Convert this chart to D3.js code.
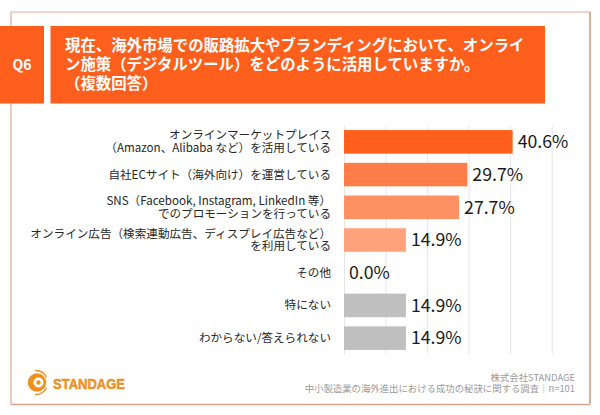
<!DOCTYPE html>
<html lang="ja">
<head>
<meta charset="UTF-8">
<title>Q6</title>
<script src="https://cdn.jsdelivr.net/npm/d3@7"></script>
<style>
html, body { margin: 0; padding: 0; background: #fff; }
svg { display: block; font-family: "Noto Sans CJK JP", sans-serif; }
</style>
</head>
<body>
<div id="chart"></div>
<script>
// chart data
const categories = ["market", "ec", "sns", "ads", "other", "none", "unknown"];
const categoryLines = [
    ["オンラインマーケットプレイス", "（Amazon、Alibaba など）を活用している"],
    ["自社ECサイト（海外向け）を運営している"],
    ["SNS（Facebook, Instagram, LinkedIn 等）", "でのプロモーションを行っている"],
    ["オンライン広告（検索連動広告、ディスプレイ広告など）", "を利用している"],
    ["その他"],
    ["特にない"],
    ["わからない/答えられない"]
];
const values = [40.6, 29.7, 27.7, 14.9, 0.0, 14.9, 14.9];
const barColors = ["#ff5f1c", "#ff7d49", "#ff9163", "#ffa27c", "#ffa27c", "#bfbfbf", "#bfbfbf"];
const gridTicks = [0, 10, 20, 30, 40, 50];

const questionNo = "Q6";
const questionLines = [
    "現在、海外市場での販路拡大やブランディングにおいて、オンライ",
    "ン施策（デジタルツール）をどのように活用していますか。",
    "（複数回答）"
];
const sourceLines = ["株式会社STANDAGE", "中小製造業の海外進出における成功の秘訣に関する調査｜n=101"];
const logoText = "STANDAGE";

const W = 600, H = 415;
const svg = d3.select("#chart").append("svg").attr("width", W).attr("height", H);

// frame
svg.append("path").attr("d", "M11 12 V404.5").attr("stroke", "#dfa78f").attr("stroke-width", 1.2).attr("fill", "none");
svg.append("path").attr("d", "M11 12 H590").attr("stroke", "#e2ad96").attr("stroke-width", 1.2).attr("fill", "none");
svg.append("path").attr("d", "M590 12 V404").attr("stroke", "#cf7a55").attr("stroke-width", 1.2).attr("fill", "none");
svg.append("path").attr("d", "M11 404.5 H590").attr("stroke", "#d9a48d").attr("stroke-width", 1.4).attr("fill", "none");

// header boxes
svg.append("rect").attr("x", 0).attr("y", 26).attr("width", 44).attr("height", 77.5).attr("fill", "#ff5f1c");
svg.append("rect").attr("x", 50.5).attr("y", 26).attr("width", 494.5).attr("height", 77.5).attr("fill", "#ff5f1c");
svg.append("text").attr("x", 22).attr("y", 70).attr("text-anchor", "middle")
    .attr("fill", "#fff").attr("font-size", 14).attr("font-weight", 700).text(questionNo);
svg.append("g").selectAll("text").data(questionLines).join("text")
    .attr("x", 65).attr("y", (d, i) => 51 + i * 19)
    .attr("fill", "#fff").attr("font-size", 15.4).attr("font-weight", 700)
    .text(d => d);

// scales
const x = d3.scaleLinear().domain([0, 50]).range([344, 551.7]);
const y = d3.scaleBand().domain(categories).range([125.5, 354.5]).paddingInner(0.28).paddingOuter(0.14);

// gridlines
svg.append("g")
    .attr("transform", "translate(0,354.5)")
    .call(d3.axisBottom(x).tickValues(gridTicks).tickSize(-229).tickFormat(""))
    .call(g => g.select(".domain").remove())
    .call(g => g.selectAll("line").attr("stroke", "#e3e3e3").attr("stroke-width", 0.9));

// bars
svg.append("g").selectAll("rect").data(categories).join("rect")
    .attr("x", x(0))
    .attr("y", d => y(d))
    .attr("width", (d, i) => x(values[i]) - x(0))
    .attr("height", y.bandwidth())
    .attr("fill", (d, i) => barColors[i]);

// value labels
svg.append("g").selectAll("text").data(categories).join("text")
    .attr("x", (d, i) => x(values[i]) + 5)
    .attr("y", d => y(d) + y.bandwidth() / 2 + 6.3)
    .attr("fill", "#1a1a1a").attr("font-size", 17.7)
    .text((d, i) => values[i].toFixed(1) + "%");

// category labels
const labelG = svg.append("g").selectAll("text").data(categories).join("text")
    .attr("text-anchor", "end").attr("fill", "#262626").attr("font-size", 11.6);
labelG.each(function(d, i) {
    const lines = categoryLines[i];
    const cy = y(d) + y.bandwidth() / 2;
    d3.select(this).selectAll("tspan").data(lines).join("tspan")
        .attr("x", 331)
        .attr("y", (l, j) => cy + 4 + (j - (lines.length - 1) / 2) * 12.8)
        .text(l => l);
});

// source
svg.append("g").selectAll("text").data(sourceLines).join("text")
    .attr("x", 575).attr("y", (d, i) => 380.5 + i * 11.2)
    .attr("text-anchor", "end").attr("fill", "#9a9a9a").attr("font-size", 9.4)
    .text(d => d);

// logo
const logo = svg.append("g").attr("transform", "translate(37,382.5)");
logo.append("circle").attr("r", 9.2).attr("fill", "#f0901e");
logo.append("circle").attr("cx", 1.5).attr("r", 5).attr("fill", "#fff");
logo.append("circle").attr("cx", 1.5).attr("r", 2.2).attr("fill", "#f0901e");
logo.append("path").attr("d", "M-2 -12 A12 12 0 0 1 9.5 -5").attr("fill", "none").attr("stroke", "#f0901e").attr("stroke-width", 1.4);
logo.append("path").attr("d", "M9.5 5 A12 12 0 0 1 -2 12").attr("fill", "none").attr("stroke", "#f0901e").attr("stroke-width", 1.4);
svg.append("text").attr("x", 53).attr("y", 388.5)
    .attr("fill", "#f0901e").attr("stroke", "#f0901e").attr("stroke-width", 0.5)
    .attr("font-size", 15.5).attr("font-weight", 700)
    .attr("font-family", "'Liberation Sans', sans-serif")
    .attr("textLength", 72).attr("lengthAdjust", "spacingAndGlyphs")
    .text(logoText);
</script>
</body>
</html>
